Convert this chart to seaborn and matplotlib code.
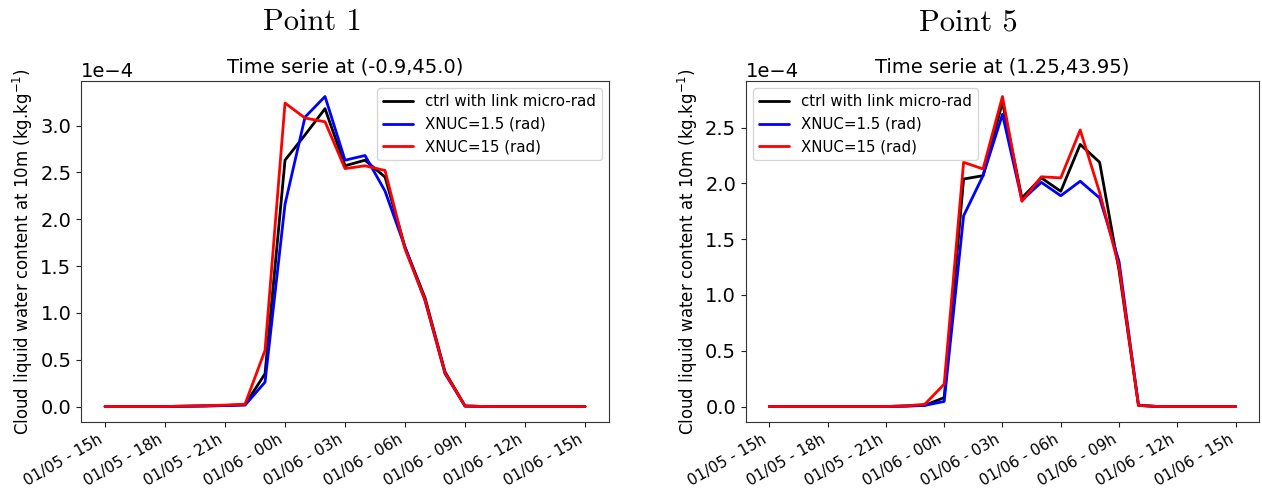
import numpy as np
import pandas as pd
import matplotlib
matplotlib.use("Agg")
import matplotlib.pyplot as plt
import seaborn as sns

hours = list(range(25))
tick_hours = [0, 3, 6, 9, 12, 15, 18, 21, 24]
tick_labels = ["01/05 - 15h", "01/05 - 18h", "01/05 - 21h", "01/06 - 00h",
               "01/06 - 03h", "01/06 - 06h", "01/06 - 09h", "01/06 - 12h",
               "01/06 - 15h"]
series_names = ["ctrl with link micro-rad", "XNUC=1.5 (rad)", "XNUC=15 (rad)"]
series_colors = ["black", "blue", "red"]

# Point 1 (values in 1e-4 kg/kg)
p1_ctrl = [0, 0, 0, 0, 0.003, 0.006, 0.01, 0.02, 0.35, 2.63, 2.90, 3.18, 2.57,
           2.63, 2.45, 1.70, 1.16, 0.37, 0.005, 0, 0, 0, 0, 0, 0]
p1_x15 = [0, 0, 0, 0, 0.003, 0.006, 0.01, 0.015, 0.26, 2.16, 3.09, 3.31, 2.63,
          2.68, 2.30, 1.70, 1.13, 0.35, 0.005, 0, 0, 0, 0, 0, 0]
p1_x150 = [0, 0, 0, 0, 0.004, 0.008, 0.015, 0.025, 0.60, 3.24, 3.08, 3.04, 2.54,
           2.57, 2.52, 1.68, 1.14, 0.36, 0.005, 0, 0, 0, 0, 0, 0]

# Point 5 (values in 1e-4 kg/kg)
p5_ctrl = [0, 0, 0, 0, 0, 0, 0, 0.005, 0.01, 0.08, 2.04, 2.07, 2.73, 1.87,
           2.05, 1.93, 2.35, 2.19, 1.22, 0.01, 0, 0, 0, 0, 0]
p5_x15 = [0, 0, 0, 0, 0, 0, 0, 0.003, 0.01, 0.045, 1.71, 2.07, 2.62, 1.85,
          2.01, 1.89, 2.02, 1.87, 1.30, 0.01, 0, 0, 0, 0, 0]
p5_x150 = [0, 0, 0, 0, 0, 0, 0, 0.005, 0.02, 0.20, 2.19, 2.13, 2.78, 1.84,
           2.06, 2.05, 2.48, 1.92, 1.25, 0.01, 0, 0, 0, 0, 0]

titles = ["Time serie at (-0.9,45.0)", "Time serie at (1.25,43.95)"]
panel_names = ["Point 1", "Point 5"]
ylabel = "Cloud liquid water content at 10m (kg.kg$^{-1}$)"

sns.set_style("ticks")
plt.rcParams["font.family"] = ["DejaVu Sans"]
plt.rcParams["text.color"] = "black"
plt.rcParams["axes.labelcolor"] = "black"
plt.rcParams["xtick.color"] = "#222222"
plt.rcParams["ytick.color"] = "#222222"
plt.rcParams["xtick.labelcolor"] = "black"
plt.rcParams["ytick.labelcolor"] = "black"

fig = plt.figure(figsize=(12.62, 4.99), dpi=100)
axes = [fig.add_axes([0.0642, 0.1543, 0.4184, 0.6834]),
        fig.add_axes([0.5911, 0.1543, 0.4065, 0.6834])]

panels = [[p1_ctrl, p1_x15, p1_x150], [p5_ctrl, p5_x15, p5_x150]]
legend_locs = ["upper right", "upper left"]

for ax, data, title, loc in zip(axes, panels, titles, legend_locs):
    for vals, name, col in zip(data, series_names, series_colors):
        df = pd.DataFrame({"t": hours, "v": np.array(vals) * 1e-4})
        sns.lineplot(data=df, x="t", y="v", ax=ax, color=col, lw=2, label=name)
    ax.set_xticks(tick_hours)
    ax.set_xticklabels(tick_labels, rotation=30, ha="right", fontsize=11)
    ax.tick_params(axis="y", labelsize=14)
    ax.set_xlabel("")
    ax.set_ylabel(ylabel, fontsize=12, color="black")
    ax.set_title(title, fontsize=14, color="black")
    ax.yaxis.get_offset_text().set_fontsize(14)
    ax.ticklabel_format(axis="y", style="sci", scilimits=(0, 0))
    ax.margins(x=0.05, y=0.05)
    for sp in ax.spines.values():
        sp.set_visible(True)
        sp.set_color("#333333")
    leg = ax.legend(loc=loc, fontsize=10.8, frameon=True)
    for txt in leg.get_texts():
        txt.set_color("black")

fig.text(0.2472, 0.955, panel_names[0], fontfamily="cmr10", fontsize=22,
         ha="center", va="center", color="black")
fig.text(0.767, 0.955, panel_names[1], fontfamily="cmr10", fontsize=22,
         ha="center", va="center", color="black")

fig.savefig("out.png", dpi=100)
